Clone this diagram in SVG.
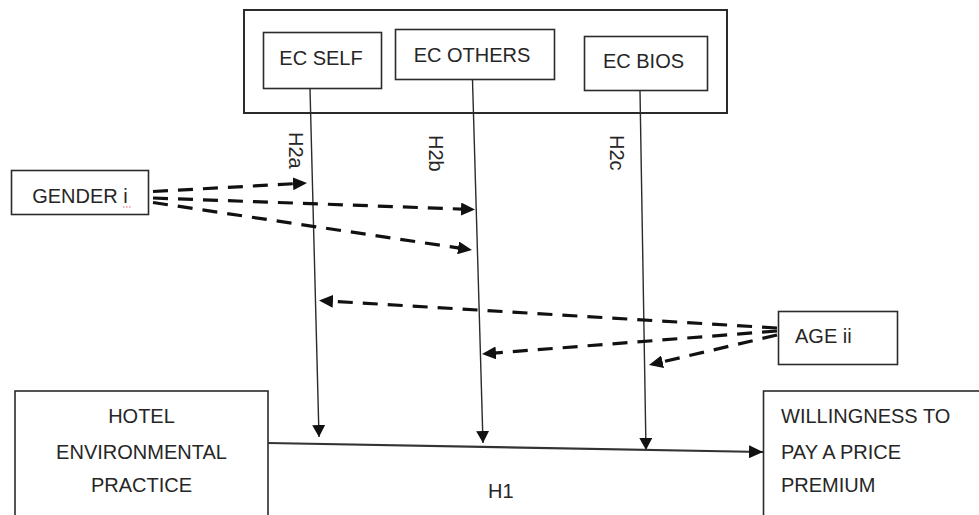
<svg xmlns="http://www.w3.org/2000/svg" width="979" height="515" viewBox="0 0 979 515">
<style>
  .box { fill: #ffffff; stroke: #2b2b2b; stroke-width: 1.6; }
  .outer { fill: none; stroke: #2b2b2b; stroke-width: 2; }
  .lbl { font-family: "Liberation Sans", Arial, sans-serif; font-size: 20px; fill: #262626; }
  .mid { text-anchor: middle; }
  .solid { fill: none; stroke: #2b2b2b; stroke-width: 1.4; }
  .main { fill: none; stroke: #333333; stroke-width: 2.2; }
  .dash { fill: none; stroke: #111111; stroke-width: 3.2; stroke-dasharray: 15 10; }
</style>
<defs>
  <marker id="solidArrow" markerUnits="userSpaceOnUse" viewBox="0 0 12 13" refX="12" refY="6.5" markerWidth="12" markerHeight="13" orient="auto">
    <path d="M0,0 L12,6.5 L0,13 z" fill="#111111"/>
  </marker>
  <marker id="mainArrow" markerUnits="userSpaceOnUse" viewBox="0 0 14 13" refX="14" refY="6.5" markerWidth="14" markerHeight="13" orient="auto">
    <path d="M0,0 L14,6.5 L0,13 z" fill="#111111"/>
  </marker>
  <marker id="dashArrow" markerUnits="userSpaceOnUse" viewBox="0 0 14 13" refX="10" refY="6.5" markerWidth="14" markerHeight="13" orient="auto">
    <path d="M0,0 L14,6.5 L0,13 z" fill="#111111"/>
  </marker>
</defs>
<rect width="979" height="515" fill="#ffffff"/>

<g id="ec-group">
  <rect class="outer" x="244" y="10" width="483" height="103"/>
</g>
<g id="ec-self">
  <rect class="box" x="263.5" y="32.5" width="118" height="56"/>
  <text class="lbl mid" x="321" y="65">EC SELF</text>
</g>
<g id="ec-others">
  <rect class="box" x="395.5" y="29.5" width="159" height="50"/>
  <text class="lbl mid" x="472" y="62">EC OTHERS</text>
</g>
<g id="ec-bios">
  <rect class="box" x="584.5" y="36.5" width="123" height="54"/>
  <text class="lbl mid" x="643.5" y="68">EC BIOS</text>
</g>
<g id="gender">
  <rect class="box" x="11.5" y="170.5" width="137" height="44"/>
  <text class="lbl mid" x="80" y="203">GENDER i</text>
  <line x1="123" y1="207" x2="131" y2="207" stroke="#e06060" stroke-width="1" stroke-dasharray="1.5 1.5"/>
</g>
<g id="age">
  <rect class="box" x="778.5" y="311.5" width="119" height="53"/>
  <text class="lbl" x="795" y="343">AGE ii</text>
</g>
<g id="hotel">
  <rect class="box" x="15" y="391" width="253" height="150"/>
  <text class="lbl mid" x="141.5" y="423">HOTEL</text>
  <text class="lbl mid" x="141.5" y="459">ENVIRONMENTAL</text>
  <text class="lbl mid" x="141.5" y="492">PRACTICE</text>
</g>
<g id="willingness">
  <rect class="box" x="763.5" y="391" width="240" height="150"/>
  <text class="lbl" x="781" y="423">WILLINGNESS TO</text>
  <text class="lbl" x="781" y="459">PAY A PRICE</text>
  <text class="lbl" x="781" y="492">PREMIUM</text>
</g>

<g id="connectors">
  <line class="solid" x1="310" y1="89" x2="319" y2="437" marker-end="url(#solidArrow)"/>
  <line class="solid" x1="472.5" y1="80" x2="483" y2="443" marker-end="url(#solidArrow)"/>
  <line class="solid" x1="640" y1="91" x2="646" y2="450" marker-end="url(#solidArrow)"/>
  <line class="main" x1="268" y1="443" x2="763" y2="452" marker-end="url(#mainArrow)"/>

  <line class="dash" x1="153" y1="191.5" x2="303" y2="183.2" marker-end="url(#dashArrow)"/>
  <line class="dash" x1="153" y1="198" x2="471" y2="209.4" marker-end="url(#dashArrow)"/>
  <line class="dash" x1="153" y1="202.5" x2="468" y2="249.4" marker-end="url(#dashArrow)"/>

  <line class="dash" x1="777" y1="328" x2="323" y2="300.7" marker-end="url(#dashArrow)"/>
  <line class="dash" x1="777" y1="331" x2="486" y2="353.7" marker-end="url(#dashArrow)"/>
  <line class="dash" x1="777" y1="335" x2="652.9" y2="364.1" marker-end="url(#dashArrow)"/>

  <text class="lbl" transform="translate(289,132) rotate(90)">H2a</text>
  <text class="lbl" transform="translate(429,135) rotate(90)">H2b</text>
  <text class="lbl" transform="translate(610,135) rotate(90)">H2c</text>
  <text class="lbl" x="488" y="498">H1</text>
</g>
</svg>
